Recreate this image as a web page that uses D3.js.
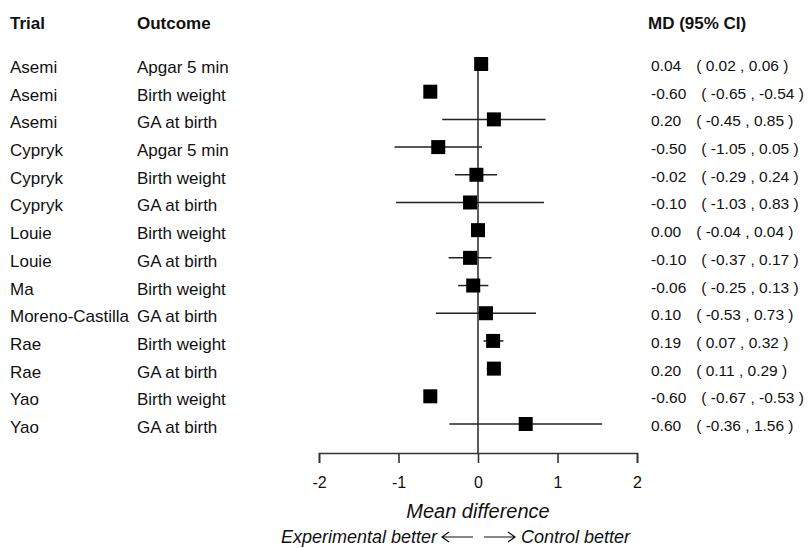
<!DOCTYPE html>
<html>
<head>
<meta charset="utf-8">
<script src="https://cdn.jsdelivr.net/npm/d3@7"></script>
<style>
  body { margin: 0; background: #fff; }
  svg { font-family: "Liberation Sans", Arial, sans-serif; }
</style>
</head>
<body>
<div class="container"></div>
<script>
const trials = ["Asemi", "Asemi", "Asemi", "Cypryk", "Cypryk", "Cypryk", "Louie", "Louie",
                "Ma", "Moreno-Castilla", "Rae", "Rae", "Yao", "Yao"];
const outcomes = ["Apgar 5 min", "Birth weight", "GA at birth", "Apgar 5 min", "Birth weight", "GA at birth",
                  "Birth weight", "GA at birth", "Birth weight", "GA at birth", "Birth weight", "GA at birth",
                  "Birth weight", "GA at birth"];
const md    = [0.04, -0.60, 0.20, -0.50, -0.02, -0.10, 0.00, -0.10, -0.06, 0.10, 0.19, 0.20, -0.60, 0.60];
const lower = [0.02, -0.65, -0.45, -1.05, -0.29, -1.03, -0.04, -0.37, -0.25, -0.53, 0.07, 0.11, -0.67, -0.36];
const upper = [0.06, -0.54, 0.85, 0.05, 0.24, 0.83, 0.04, 0.17, 0.13, 0.73, 0.32, 0.29, -0.53, 1.56];
const xTicks = [-2, -1, 0, 1, 2];

const width = 809;
const height = 548;
const axisY = 453;
const box = 14;

const rows = md.map((d, i) => ({ i, trial: trials[i], outcome: outcomes[i], md: d, lo: lower[i], hi: upper[i] }));

const xScale = d3.scaleLinear().domain([-2, 2]).range([319, 637]);
const yScale = d3.scalePoint().domain(d3.range(rows.length)).range([64, 424]);

const svg = d3.select(".container").append("svg")
    .attr("width", width)
    .attr("height", height);

const f2 = d3.format(".2f");
const fmt = v => f2(v).replace("−", "-");

// headers
svg.append("g")
    .attr("font-weight", "bold")
    .attr("font-size", 17)
    .attr("fill", "#111")
    .selectAll("text")
    .data([["Trial", 10], ["Outcome", 137], ["MD (95% CI)", 648]])
    .enter().append("text")
    .attr("x", d => d[0] === "MD (95% CI)" ? d[1] : d[1])
    .attr("y", 29)
    .text(d => d[0]);

// left text columns
const lab = svg.append("g").attr("font-size", 17).attr("fill", "#111");
lab.selectAll(".trial").data(rows).enter().append("text")
    .attr("class", "trial")
    .attr("x", 10)
    .attr("y", d => yScale(d.i) + 9)
    .text(d => d.trial);
lab.selectAll(".outcome").data(rows).enter().append("text")
    .attr("class", "outcome")
    .attr("x", 137)
    .attr("y", d => yScale(d.i) + 9)
    .text(d => d.outcome);

// right column
const est = svg.append("g").attr("font-size", 15.5).attr("fill", "#111")
    .selectAll("text").data(rows).enter().append("text")
    .attr("x", 651)
    .attr("y", d => yScale(d.i) + 7)
    .attr("xml:space", "preserve");
est.append("tspan").text(d => fmt(d.md));
est.append("tspan").attr("dx", 15).text(d => `( ${fmt(d.lo)} , ${fmt(d.hi)} )`);

// zero line
svg.append("line")
    .attr("x1", xScale(0)).attr("x2", xScale(0))
    .attr("y1", yScale(0)).attr("y2", axisY)
    .attr("stroke", "#333")
    .attr("stroke-width", 1.6);

// CIs
svg.append("g").selectAll("line").data(rows).enter().append("line")
    .attr("x1", d => xScale(d.lo))
    .attr("x2", d => xScale(d.hi))
    .attr("y1", d => yScale(d.i))
    .attr("y2", d => yScale(d.i))
    .attr("stroke", "#222")
    .attr("stroke-width", 1.5);

// boxes
svg.append("g").selectAll("rect").data(rows).enter().append("rect")
    .attr("x", d => xScale(d.md) - box / 2)
    .attr("y", d => yScale(d.i) - box / 2)
    .attr("width", box)
    .attr("height", box)
    .attr("fill", "#000");

// x axis
const xAxis = d3.axisBottom(xScale)
    .tickValues(xTicks)
    .tickSize(10)
    .tickPadding(14)
    .tickFormat(d => String(d));

const gx = svg.append("g")
    .attr("transform", `translate(0,${axisY})`)
    .call(xAxis);
gx.selectAll("path, line").attr("stroke", "#333").attr("stroke-width", 1.6);
gx.selectAll("text")
    .attr("font-size", 16)
    .attr("fill", "#111")
    .attr("font-family", "Liberation Sans, Arial, sans-serif");

svg.append("text")
    .attr("x", xScale(0))
    .attr("y", 518)
    .attr("text-anchor", "middle")
    .attr("font-style", "italic")
    .attr("font-size", 20)
    .attr("fill", "#111")
    .text("Mean difference");

// direction labels
svg.append("text")
    .attr("x", 437).attr("y", 543)
    .attr("text-anchor", "end")
    .attr("font-style", "italic")
    .attr("font-size", 18)
    .attr("fill", "#111")
    .text("Experimental better");
svg.append("text")
    .attr("x", 521).attr("y", 543)
    .attr("font-style", "italic")
    .attr("font-size", 18)
    .attr("fill", "#111")
    .text("Control better");

const ay = 537;
const arrows = svg.append("g").attr("stroke", "#111").attr("stroke-width", 1.2).attr("fill", "none");
arrows.append("path").attr("d", `M473,${ay}H442M449,${ay - 5}L442,${ay}L449,${ay + 5}`);
arrows.append("path").attr("d", `M484,${ay}H515M508,${ay - 5}L515,${ay}L508,${ay + 5}`);
</script>
</body>
</html>
